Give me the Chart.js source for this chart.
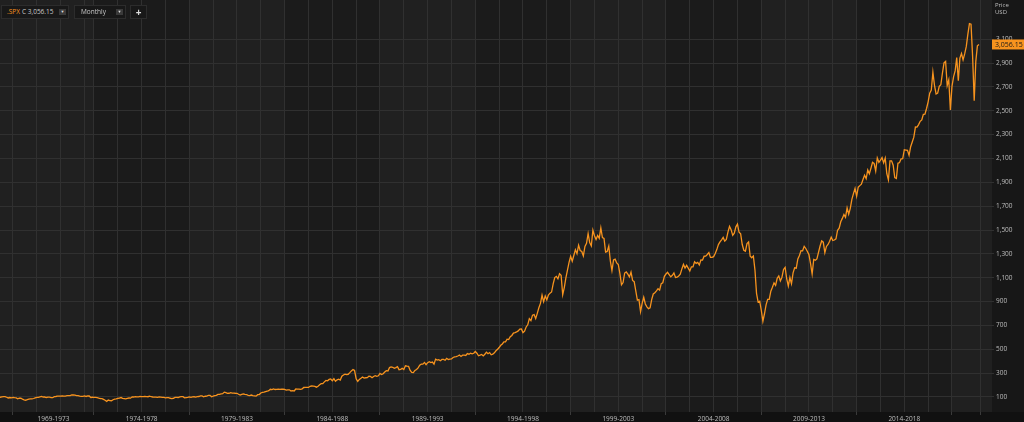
<!DOCTYPE html>
<html>
<head>
<meta charset="utf-8">
<script src="https://cdn.jsdelivr.net/npm/chart.js@4/dist/chart.umd.min.js"></script>
<style>
  html, body { margin: 0; padding: 0; background: #151515; }
  #wrap { position: relative; width: 1024px; height: 422px; overflow: hidden; font-family: "Open Sans", sans-serif; }
  #wrap canvas { position: absolute; left: 0; top: 0; }
  .box { position: absolute; top: 5px; height: 14px; background: #181818; border: 1px solid #2c2c2c; box-sizing: border-box; color: #c8c8c8; font-size: 6.5px; line-height: 12px; white-space: nowrap; }
  .arrow { position: absolute; top: 3px; width: 7px; height: 6px; background: #3a3a3a; color: #ddd; font-size: 4px; line-height: 6px; text-align: center; }
  .axisTitle { position: absolute; left: 995px; color: #bdbdbd; font-size: 6px; line-height: 7px; }
</style>
</head>
<body>
<div id="wrap">
  <canvas id="chart" width="1024" height="422"></canvas>
  <div class="box" style="left:1px;width:68px;">
    <span style="position:absolute;left:5px;color:#f7931e;">.SPX</span>
    <span style="position:absolute;left:20px;">C 3,056.15</span>
    <span class="arrow" style="left:57px;">&#9660;</span>
  </div>
  <div class="box" style="left:74px;width:52px;">
    <span style="position:absolute;left:6px;">Monthly</span>
    <span class="arrow" style="left:41px;">&#9660;</span>
  </div>
  <div class="box" style="left:130px;width:17px;text-align:center;font-size:10px;font-weight:bold;color:#ddd;">+</div>
  <div class="axisTitle" style="top:2px;">Price</div>
  <div class="axisTitle" style="top:9px;">USD</div>
</div>
<script>
// monthly closes, Jan 1969 .. Jun 2020
const startYear = 1969;
const spx1969_1978 = [
  103.0, 98.1, 101.5, 103.7, 103.5, 97.7, 91.8, 95.5, 93.1, 97.2, 93.8, 92.1,
  85.0, 89.5, 89.6, 81.5, 76.6, 72.7, 78.1, 81.5, 84.2, 83.3, 87.2, 92.2,
  95.9, 96.8, 100.3, 104.0, 99.6, 99.7, 95.6, 99.0, 98.3, 94.2, 94.0, 102.1,
  103.9, 106.6, 107.2, 107.7, 109.5, 107.1, 107.4, 111.1, 110.6, 111.6, 116.7, 118.1,
  116.0, 111.7, 111.5, 107.0, 105.0, 104.3, 108.2, 104.3, 108.4, 108.3, 96.0, 97.6,
  96.6, 96.2, 94.0, 90.3, 87.3, 86.0, 79.3, 72.2, 63.5, 73.9, 70.0, 68.6,
  77.0, 81.6, 83.4, 87.3, 91.2, 95.2, 88.8, 86.9, 83.9, 89.0, 91.2, 90.2,
  100.9, 99.7, 102.8, 101.6, 100.2, 104.3, 103.4, 102.9, 105.2, 102.9, 102.1, 107.5,
  102.0, 99.8, 98.4, 98.4, 96.1, 100.5, 98.9, 96.8, 96.5, 92.3, 94.8, 95.1,
  89.3, 87.0, 89.2, 96.8, 97.2, 95.5, 100.7, 103.3, 102.5, 93.2, 94.7, 96.1
];
const spx1979_1988 = [
  99.9, 96.3, 101.6, 101.8, 99.1, 102.9, 103.8, 109.3, 109.3, 101.8, 106.2, 107.9,
  114.2, 113.7, 102.1, 106.3, 111.2, 114.2, 121.7, 122.4, 125.5, 127.5, 140.5, 135.8,
  129.6, 131.3, 136.0, 132.8, 132.6, 131.2, 130.9, 122.8, 116.2, 121.9, 126.4, 122.6,
  120.4, 113.1, 112.0, 116.4, 111.9, 109.6, 107.1, 119.5, 120.4, 133.7, 138.5, 140.6,
  145.3, 148.1, 153.0, 164.4, 162.4, 168.1, 162.6, 164.4, 166.1, 163.6, 166.4, 164.9,
  163.4, 157.1, 159.2, 160.1, 150.6, 153.2, 150.7, 166.7, 166.1, 166.1, 163.6, 167.2,
  179.6, 181.2, 180.7, 179.8, 189.6, 191.9, 190.9, 188.6, 182.1, 189.8, 202.2, 211.3,
  211.8, 226.9, 238.9, 235.5, 247.4, 250.8, 236.1, 252.9, 231.3, 244.0, 249.2, 242.2,
  274.1, 284.2, 291.7, 288.4, 290.1, 304.0, 318.7, 329.8, 321.8, 251.8, 230.3, 247.1,
  257.1, 267.8, 258.9, 261.3, 262.2, 273.5, 272.0, 261.5, 271.9, 279.0, 273.7, 277.7
];
const spx1989_1998 = [
  297.5, 288.9, 294.9, 309.6, 320.5, 318.0, 346.1, 351.5, 349.2, 340.4, 346.0, 353.4,
  329.1, 331.9, 339.9, 330.8, 361.2, 358.0, 356.2, 322.6, 306.1, 304.0, 322.2, 330.2,
  343.9, 367.1, 375.2, 375.4, 389.8, 371.2, 387.8, 395.4, 387.9, 392.5, 375.2, 417.1,
  408.8, 412.7, 403.7, 415.0, 415.4, 408.1, 424.2, 414.0, 417.8, 418.7, 431.4, 435.7,
  438.8, 443.4, 451.7, 440.2, 450.2, 450.5, 448.1, 463.6, 458.9, 467.8, 461.8, 466.5,
  481.6, 467.1, 445.8, 450.9, 456.5, 444.3, 458.3, 475.5, 462.7, 472.4, 453.7, 459.3,
  470.4, 487.4, 500.7, 514.7, 533.4, 544.8, 562.1, 561.9, 584.4, 581.5, 605.4, 615.9,
  636.0, 640.4, 645.5, 654.2, 669.1, 670.6, 640.0, 652.0, 687.3, 705.3, 757.0, 740.7,
  786.2, 790.8, 757.1, 801.3, 848.3, 885.1, 954.3, 899.5, 947.3, 914.6, 955.4, 970.4,
  980.3, 1049.3, 1101.8, 1111.8, 1090.8, 1133.8, 1120.7, 957.3, 1017.0, 1098.7, 1163.6, 1229.2
];
const spx1999_2008 = [
  1279.6, 1238.3, 1286.4, 1335.2, 1301.8, 1372.7, 1328.7, 1320.4, 1282.7, 1362.9, 1388.9, 1469.3,
  1394.5, 1366.4, 1498.6, 1452.4, 1420.6, 1454.6, 1430.8, 1517.7, 1436.5, 1429.4, 1315.0, 1320.3,
  1366.0, 1239.9, 1160.3, 1249.5, 1255.8, 1224.4, 1211.2, 1133.6, 1040.9, 1059.8, 1139.5, 1148.1,
  1130.2, 1106.7, 1147.4, 1076.9, 1067.1, 989.8, 911.6, 916.1, 815.3, 885.8, 936.3, 879.8,
  855.7, 841.2, 848.2, 916.9, 963.6, 974.5, 990.3, 1008.0, 996.0, 1050.7, 1058.2, 1111.9,
  1131.1, 1144.9, 1126.2, 1107.3, 1120.7, 1140.8, 1101.7, 1104.2, 1114.6, 1130.2, 1173.8, 1211.9,
  1181.3, 1203.6, 1180.6, 1156.9, 1191.5, 1191.3, 1234.2, 1220.3, 1228.8, 1207.0, 1249.5, 1248.3,
  1280.1, 1280.7, 1294.8, 1310.6, 1270.1, 1270.2, 1276.7, 1303.8, 1335.9, 1377.9, 1400.6, 1418.3,
  1438.2, 1406.8, 1420.9, 1482.4, 1530.6, 1503.4, 1455.3, 1474.0, 1526.8, 1549.4, 1481.1, 1468.4,
  1378.6, 1330.6, 1322.7, 1385.6, 1400.4, 1280.0, 1267.4, 1282.8, 1166.4, 968.8, 896.2, 903.3
];
const spx2009_2020 = [
  825.9, 735.1, 797.9, 872.8, 919.1, 919.3, 987.5, 1020.6, 1057.1, 1036.2, 1095.6, 1115.1,
  1073.9, 1104.5, 1169.4, 1186.7, 1089.4, 1030.7, 1101.6, 1049.3, 1141.2, 1183.3, 1180.6, 1257.6,
  1286.1, 1327.2, 1325.8, 1363.6, 1345.2, 1320.6, 1292.3, 1218.9, 1131.4, 1253.3, 1247.0, 1257.6,
  1312.4, 1365.7, 1408.5, 1397.9, 1310.3, 1362.2, 1379.3, 1406.6, 1440.7, 1412.2, 1416.2, 1426.2,
  1498.1, 1514.7, 1569.2, 1597.6, 1630.7, 1606.3, 1685.7, 1633.0, 1681.6, 1756.5, 1805.8, 1848.4,
  1782.6, 1859.5, 1872.3, 1884.0, 1923.6, 1960.2, 1930.7, 2003.4, 1972.3, 2018.1, 2067.6, 2058.9,
  1995.0, 2104.5, 2067.9, 2085.5, 2107.4, 2063.1, 2103.8, 1972.2, 1920.0, 2079.4, 2080.4, 2043.9,
  1940.2, 1932.2, 2059.7, 2065.3, 2097.0, 2098.9, 2173.6, 2171.0, 2168.3, 2126.2, 2198.8, 2238.8,
  2278.9, 2363.6, 2362.7, 2384.2, 2411.8, 2423.4, 2470.3, 2471.7, 2519.4, 2575.3, 2647.6, 2673.6,
  2823.8, 2713.8, 2640.9, 2648.1, 2705.3, 2718.4, 2816.3, 2901.5, 2914.0, 2711.7, 2760.2, 2506.9,
  2704.1, 2784.5, 2834.4, 2945.8, 2752.1, 2941.8, 2980.4, 2926.5, 2976.7, 3037.6, 3141.0, 3230.8,
  3225.5, 2954.2, 2584.6, 2912.4, 3044.3, 3056.15
];
const lastClose = 3056.15;
const periodLabels = ['1969-1973', '1974-1978', '1979-1983', '1984-1988', '1989-1993',
  '1994-1998', '1999-2003', '2004-2008', '2009-2013', '2014-2018'];
const priceTicks = [100, 300, 500, 700, 900, 1100, 1300, 1500, 1700, 1900, 2100,
  2300, 2500, 2700, 2900, 3100];

const closes = [].concat(spx1969_1978, spx1979_1988, spx1989_1998, spx1999_2008, spx2009_2020);
const points = closes.map((v, i) => ({ x: startYear + i / 12, y: v }));

// period boundaries: first visible one starts late in 1969
const boundaries = [1969.75];
for (let y = 1974; y <= 2019; y += 5) boundaries.push(y);
boundaries.push(2020.5);
const labelAt = {};
periodLabels.forEach((l, i) => {
  const c = (boundaries[i] + boundaries[i + 1]) / 2;
  labelAt[c.toFixed(3)] = l;
});
const gridAt = [1969.75, 1971, 1972.25, 1973.5];
for (let y = 1974; y <= 2019.01; y += 1.25) gridAt.push(y);
gridAt.push(2020.5);

// no label overflow padding, so the plot fills 0..992 x 0..412
const noPad = (s) => { s.paddingTop = 0; s.paddingBottom = 0; s.paddingLeft = 0; s.paddingRight = 0; };

const bgPlugin = {
  id: 'bg',
  beforeDraw(chart) {
    const { ctx, chartArea: a, scales } = chart;
    ctx.save();
    ctx.fillStyle = '#171717';
    ctx.fillRect(0, 0, chart.width, chart.height);
    ctx.fillStyle = '#111111';
    ctx.fillRect(0, a.bottom, chart.width, chart.height - a.bottom);
    const sx = scales.x;
    const edges = [sx.min, ...boundaries.slice(1, -1), sx.max];
    for (let i = 0; i < edges.length - 1; i++) {
      const x0 = Math.max(a.left, sx.getPixelForValue(edges[i]));
      const x1 = Math.min(a.right, sx.getPixelForValue(edges[i + 1]));
      ctx.fillStyle = i % 2 === 0 ? '#202020' : '#1b1b1b';
      ctx.fillRect(x0, a.top, x1 - x0, a.bottom - a.top);
    }
    ctx.restore();
  }
};

const badgePlugin = {
  id: 'badge',
  afterDatasetsDraw(chart) {
    const { ctx, chartArea: a, scales } = chart;
    const y = scales.y.getPixelForValue(lastClose);
    ctx.save();
    ctx.fillStyle = '#f7931e';
    ctx.fillRect(a.right, y - 5, chart.width - a.right, 10);
    ctx.fillStyle = '#1a1a1a';
    ctx.font = '7px "Open Sans", sans-serif';
    ctx.textBaseline = 'middle';
    ctx.fillText(lastClose.toLocaleString('en-US', { minimumFractionDigits: 2 }), a.right + 3, y + 0.5);
    ctx.restore();
  }
};

new Chart(document.getElementById('chart'), {
  type: 'line',
  data: {
    datasets: [{
      data: points,
      borderColor: '#f7931e',
      borderWidth: 1.3,
      pointRadius: 0,
      tension: 0,
      fill: false
    }]
  },
  options: {
    responsive: false,
    animation: false,
    events: [],
    layout: { padding: 0 },
    plugins: { legend: { display: false }, tooltip: { enabled: false } },
    scales: {
      xg: {
        type: 'linear',
        position: 'bottom',
        min: 1969.07,
        max: 2021.1,
        afterBuildTicks: (s) => { s.ticks = gridAt.map(v => ({ value: v })); },
        afterFit: (s) => { s.height = 0; noPad(s); },
        ticks: { display: false },
        grid: { color: '#303030', lineWidth: 1, drawTicks: false },
        border: { display: false }
      },
      x: {
        type: 'linear',
        position: 'bottom',
        min: 1969.07,
        max: 2021.1,
        afterBuildTicks: (s) => {
          const vals = boundaries.concat(Object.keys(labelAt).map(Number));
          s.ticks = vals.sort((p, q) => p - q).map(v => ({ value: v }));
        },
        afterFit: (s) => { s.height = 10; noPad(s); },
        ticks: {
          autoSkip: false,
          maxRotation: 0,
          padding: 0,
          color: '#bdbdbd',
          font: { family: 'Open Sans', size: 6.5 },
          callback: (v) => labelAt[Number(v).toFixed(3)] || ''
        },
        grid: {
          drawOnChartArea: false,
          drawTicks: true,
          tickLength: 3,
          tickColor: (c) => (c.tick && labelAt[c.tick.value.toFixed(3)]) ? 'rgba(0,0,0,0)' : '#3a3a3a'
        },
        border: { display: false }
      },
      y: {
        type: 'linear',
        position: 'right',
        min: -26,
        max: 3429,
        afterBuildTicks: (s) => { s.ticks = priceTicks.map(v => ({ value: v })); },
        afterFit: (s) => { s.width = 32; noPad(s); },
        ticks: {
          padding: 2,
          color: '#bdbdbd',
          font: { family: 'Open Sans', size: 6.5 },
          callback: (v) => Number(v).toLocaleString('en-US')
        },
        grid: { color: '#303030', lineWidth: 1, drawTicks: true, tickLength: 2, tickColor: '#303030' },
        border: { display: false }
      }
    }
  },
  plugins: [bgPlugin, badgePlugin]
});
</script>
</body>
</html>
